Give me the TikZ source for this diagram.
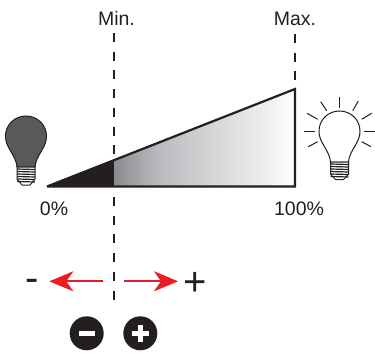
\documentclass[tikz,border=0pt]{standalone}
\usepackage{fontspec}
\setmainfont{Liberation Sans}
\usetikzlibrary{arrows.meta}
\definecolor{ink}{HTML}{231F20}
\definecolor{bulbgrey}{HTML}{58595B}
\definecolor{redarrow}{HTML}{ED1C24}
\definecolor{gradA}{HTML}{8A8C8F}
\definecolor{gradB}{HTML}{B8BABD}
\definecolor{gradC}{HTML}{D4D5D7}
\definecolor{gradD}{HTML}{EAEBEC}
\pgfdeclarehorizontalshading{wedgeshade}{100bp}{color(0bp)=(gradA); color(25bp)=(gradA); color(37bp)=(gradB); color(52bp)=(gradC); color(65bp)=(gradD); color(75bp)=(white); color(100bp)=(white)}
\tikzset{
  lab/.style={font=\fontsize{19.5}{19.5}\selectfont,text=ink,inner sep=0pt,anchor=base},
  sign/.style={font=\fontsize{40}{40}\selectfont,text=ink,inner sep=0pt,anchor=base},
  dashline/.style={draw=ink,line width=2.4pt,dash pattern=on 9pt off 9.7pt},
  rarrow/.style={draw=redarrow,line width=1.8pt,-{Stealth[length=24pt,width=20pt,inset=7pt,fill=redarrow]}},
  ray/.style={draw=ink,line width=1pt},
  btn/.style={circle,fill=ink,minimum size=34pt,inner sep=0pt},
  bar/.style={draw=white,line width=5pt},
}
\newcommand{\bulbshape}{
  (-9,30) .. controls (-9.5,24) and (-12,20) .. (-16,13)
  .. controls (-19,8) and (-20.5,4) .. (-20.5,-1)
  .. controls (-20.5,-12) and (-11.5,-21) .. (0,-21)
  .. controls (11.5,-21) and (20.5,-12) .. (20.5,-1)
  .. controls (20.5,4) and (19,8) .. (16,13)
  .. controls (12,20) and (9.5,24) .. (9,30) -- cycle
}
\begin{document}
\begin{tikzpicture}[x=1pt,y=-1pt]
\useasboundingbox (0,0) rectangle (375,356);
% guides
\coordinate (minTop) at (114,33);
\coordinate (minMid) at (114,160);
\coordinate (minLow) at (114,197);
\coordinate (minEnd) at (114,302);
\coordinate (maxTop) at (295,34);
\coordinate (maxEnd) at (295,89);
\draw[dashline] (minTop) -- (minMid);
\draw[dashline] (minLow) -- (minEnd);
\draw[dashline] (maxTop) -- (maxEnd);
% wedge
\coordinate (apex) at (47,186.5);
\coordinate (top) at (295,89);
\coordinate (corner) at (295,186.5);
\coordinate (splitT) at (114,160);
\coordinate (splitB) at (114,186.5);
\fill[ink] (apex) -- (splitT) -- (splitB) -- cycle;
\shade[shading=wedgeshade] (splitT) -- (top) -- (corner) -- (splitB) -- cycle;
\draw[ink,line width=2.2pt,line join=miter,line cap=butt] (apex) -- (top) -- (corner) -- (apex);
% labels
\node[lab] (minLabel) at (116.5,25.5) {Min.};
\node[lab] (maxLabel) at (295,25.5) {Max.};
\node[lab] (zero) at (54,215) {0\%};
\node[lab] (hundred) at (299,215) {100\%};
% dark bulb
\begin{scope}[shift={(26,137)}]
  \fill[bulbgrey,draw=ink,line width=1pt] \bulbshape;
  \fill[white,draw=ink,line width=1pt] (-9,30) -- (9,30) -- (9,42) .. controls (8,45) and (5,45) .. (4,48) -- (-4,48) .. controls (-5,45) and (-8,45) .. (-9,42) -- cycle;
  \foreach \yy in {32,34.5,37,39.5,42,44.5} \draw[ink,line width=1.2pt] (-9,\yy) -- (9,\yy+0.5);
\end{scope}
% light bulb
\begin{scope}[shift={(339.5,132)}]
  \draw[ink,fill=white,line width=1pt] \bulbshape;
  \fill[white,draw=ink,line width=1pt] (-9,30) -- (9,30) -- (9,42) .. controls (8,45) and (5,45) .. (4,47.5) -- (-4,47.5) .. controls (-5,45) and (-8,45) .. (-9,42) -- cycle;
  \foreach \yy in {32,34.5,37,39.5,42,44.5} \draw[ink,line width=1.2pt] (-9,\yy) -- (9,\yy+0.5);
\end{scope}
\draw[ray] (339.7,96.7) -- (339.7,108);
\draw[ray] (304,131) -- (315,131);
\draw[ray] (364,131) -- (375,131);
\draw[ray] (320.7,101.7) -- (326.7,110.7);
\draw[ray] (358.3,101) -- (352.7,110.7);
\draw[ray] (307,113.3) -- (317.7,119.3);
\draw[ray] (361.7,119.3) -- (371.7,113.3);
\draw[ray] (308.3,146.7) -- (317.7,141.7);
\draw[ray] (361.7,141.7) -- (371,146.7);
% arrows
\coordinate (lStart) at (102.7,281.3);
\coordinate (lTip) at (49.3,281.3);
\coordinate (rStart) at (124,281.3);
\coordinate (rTip) at (178,281.3);
\draw[rarrow] (lStart) -- (lTip);
\draw[rarrow] (rStart) -- (rTip);
\node[sign] (minus) at (32.5,291) {-};
\node[sign] (plus) at (195,295.5) {+};
% buttons
\node[btn] (minusBtn) at (86.7,333.3) {};
\node[btn] (plusBtn) at (140.3,333.3) {};
\draw[bar] ([xshift=-8pt]minusBtn.center) -- ([xshift=8pt]minusBtn.center);
\draw[bar] ([xshift=-8.5pt]plusBtn.center) -- ([xshift=8.5pt]plusBtn.center);
\draw[bar] ([yshift=-8.5pt]plusBtn.center) -- ([yshift=8.5pt]plusBtn.center);
\end{tikzpicture}
\end{document}
